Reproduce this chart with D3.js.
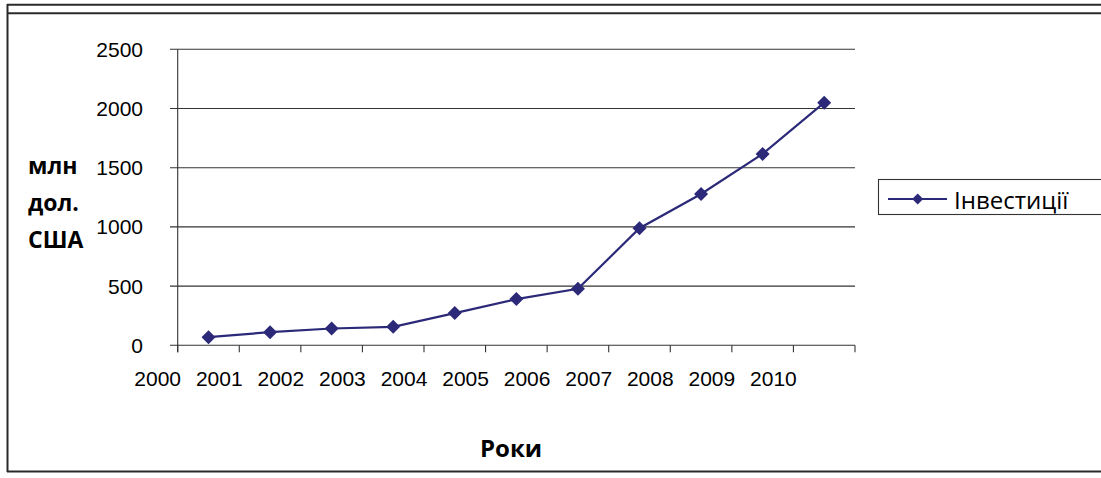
<!DOCTYPE html>
<html><head><meta charset="utf-8">
<script src="https://cdn.jsdelivr.net/npm/d3@7"></script>
<style>body{margin:0;background:#fff}svg{display:block}</style>
</head><body>
<script>
const categories = ["2000","2001","2002","2003","2004","2005","2006","2007","2008","2009","2010"];
const values = [69, 111, 142, 156, 272, 390, 477, 989, 1278, 1616, 2049];
const yTicks = [0, 500, 1000, 1500, 2000, 2500];
const seriesName = "Інвестиції";
const yTitle = ["млн", "дол.", "США"];
const xTitle = "Роки";

const W = 1101, H = 478;
const col = "#2c2a78";
const svg = d3.select("body").append("svg").attr("width", W).attr("height", H);

// outer frame
const frame = svg.append("g").attr("stroke", "#2a2a2a").attr("stroke-width", 2).attr("fill", "none");
frame.append("line").attr("x1", 7.5).attr("x2", 7.5).attr("y1", 4).attr("y2", 472);
frame.append("line").attr("x1", 7).attr("x2", W).attr("y1", 4.7).attr("y2", 4.7);
frame.append("line").attr("x1", 7).attr("x2", W).attr("y1", 13.3).attr("y2", 13.3);
frame.append("line").attr("x1", 7).attr("x2", W).attr("y1", 471.5).attr("y2", 471.5);

const x = d3.scaleBand().domain(categories).range([177.7, 855]).padding(0);
const y = d3.scaleLinear().domain([0, 2500]).range([345.3, 49.3]);

// gridlines
svg.append("g").selectAll("line").data(yTicks).join("line")
  .attr("x1", 170).attr("x2", 855)
  .attr("y1", d => y(d)).attr("y2", d => y(d))
  .attr("stroke", "#333").attr("stroke-width", 1.1);

// y axis line
svg.append("line").attr("x1", x.range()[0]).attr("x2", x.range()[0])
  .attr("y1", y(2500)).attr("y2", y(0) + 7).attr("stroke", "#333").attr("stroke-width", 1.1);

// y labels
svg.append("g").selectAll("text").data(yTicks).join("text")
  .attr("x", 143).attr("y", d => y(d)).attr("dy", "0.36em")
  .attr("text-anchor", "end")
  .attr("font-family", "Liberation Sans, Arial, sans-serif").attr("font-size", 21)
  .attr("fill", "#000").text(d => d);

// x ticks
const tickPos = categories.map(c => x(c)).concat([x.range()[1]]);
svg.append("g").selectAll("line").data(tickPos).join("line")
  .attr("x1", d => d).attr("x2", d => d)
  .attr("y1", y(0)).attr("y2", y(0) + 7)
  .attr("stroke", "#333").attr("stroke-width", 1.1);

// x labels
svg.append("g").selectAll("text").data(categories).join("text")
  .attr("x", d => x(d) - 20).attr("y", 385.7)
  .attr("text-anchor", "middle")
  .attr("font-family", "Liberation Sans, Arial, sans-serif").attr("font-size", 21)
  .attr("fill", "#000").text(d => d);

// line
const line = d3.line().x((d, i) => x(categories[i]) + x.bandwidth() / 2).y(d => y(d));
svg.append("path").datum(values).attr("d", line)
  .attr("fill", "none").attr("stroke", col).attr("stroke-width", 2.2);

const diamond = (cx, cy, r) => `M${cx},${cy - r}L${cx + r},${cy}L${cx},${cy + r}L${cx - r},${cy}Z`;
svg.append("g").selectAll("path").data(values).join("path")
  .attr("d", (d, i) => diamond(x(categories[i]) + x.bandwidth() / 2, y(d), 7))
  .attr("fill", col);

// y title
svg.append("g").selectAll("text").data(yTitle).join("text")
  .attr("x", 28).attr("y", (d, i) => 174 + i * 37)
  .attr("font-family", "Open Sans, sans-serif").attr("font-weight", "bold").attr("font-size", 23)
  .attr("fill", "#000").text(d => d);

// x title
svg.append("text").attr("x", 511).attr("y", 456.5).attr("text-anchor", "middle")
  .attr("font-family", "Open Sans, sans-serif").attr("font-weight", "bold").attr("font-size", 24)
  .attr("fill", "#000").text(xTitle);

// legend
const lg = svg.append("g");
lg.append("rect").attr("x", 878.5).attr("y", 179.5).attr("width", 230).attr("height", 35)
  .attr("fill", "#fff").attr("stroke", "#333").attr("stroke-width", 1.1);
lg.append("line").attr("x1", 888).attr("x2", 947).attr("y1", 199).attr("y2", 199)
  .attr("stroke", col).attr("stroke-width", 2);
lg.append("path").attr("d", diamond(917.7, 199, 5.5)).attr("fill", col);
lg.append("text").attr("x", 954).attr("y", 208.5)
  .attr("font-family", "Open Sans, sans-serif").attr("font-size", 24)
  .attr("fill", "#000").text(seriesName);
</script>
</body></html>
